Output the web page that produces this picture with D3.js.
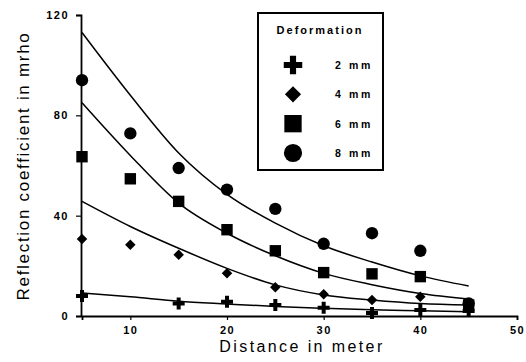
<!DOCTYPE html>
<html>
<head>
<meta charset="utf-8">
<script src="https://cdn.jsdelivr.net/npm/d3@7"></script>
<style>
  body { margin: 0; background: #fff; }
  text { font-family: "Liberation Sans", Arial, sans-serif; fill: #000; }
</style>
</head>
<body>
<script>
// Data
const distances = [5, 10, 15, 20, 25, 30, 35, 40, 45];
const deformations = ["2 mm", "4 mm", "6 mm", "8 mm"];

// measured points (null = no marker)
const points2mm = [8, null, 5, 5.7, 4.4, 3.3, 1.2, 2.4, 2];
const points4mm = [30.7, 28.4, 24.4, 17, 11.5, 8.7, 6.4, 7.7, 4.4];
const points6mm = [63.5, 54.7, 45.7, 34.4, 26, 17.3, 16.8, 15.7, 4.4];
const points8mm = [94, 72.8, 59, 50.4, 42.7, 28.8, 33, 26, 5];

// fitted curves, read at each distance
const fit2mm = [9.2, 7.7, 5.9, 4.8, 3.8, 3.1, 2.5, 2.1, 1.7];
const fit4mm = [45.7, 35.7, 27, 19, 12.4, 8.4, 6.4, 5, 4.4];
const fit6mm = [85, 64, 45, 33, 24, 17, 12.5, 9, 6.8];
const fit8mm = [113, 88, 65, 48.5, 37, 28, 21.5, 16, 12];

const xTicks = [10, 20, 30, 40, 50];
const yTicks = [0, 40, 80, 120];

const w = 526, h = 362;

const x = d3.scaleLinear().domain([5, 50]).range([82, 517]);
const y = d3.scaleLinear().domain([0, 120]).range([316, 15]);

const svg = d3.select("body").append("svg")
  .attr("width", w)
  .attr("height", h);

// symbols
const shapes = [d3.symbolCross, d3.symbolSquare, d3.symbolSquare, d3.symbolCircle];
const rotations = [0, 45, 0, 0];
const plotSizes = [80, 55, 130, 120];
const legendSizes = [190, 130, 300, 260];

const series = [
  { points: points2mm, fit: fit2mm },
  { points: points4mm, fit: fit4mm },
  { points: points6mm, fit: fit6mm },
  { points: points8mm, fit: fit8mm }
];

// Axes
const xAxis = svg.append("g")
  .attr("transform", `translate(0,${y(0)})`)
  .call(d3.axisBottom(x).tickValues(xTicks).tickSize(4).tickFormat(d3.format("d")));
const yAxis = svg.append("g")
  .attr("transform", `translate(${x(5) - 1},0)`)
  .call(d3.axisLeft(y).tickValues(yTicks).tickSize(5).tickFormat(d3.format("d")));

[xAxis, yAxis].forEach(a => {
  a.select(".domain").attr("stroke", "#000").attr("stroke-width", 1.8);
  a.selectAll(".tick line").attr("stroke", "#000").attr("stroke-width", 1.2);
  a.selectAll(".tick text")
    .style("font-family", "'Liberation Sans', Arial, sans-serif")
    .style("font-size", "11px")
    .style("font-weight", "bold")
    .style("letter-spacing", "1.5px")
    .attr("fill", "#000");
});
xAxis.selectAll(".tick text").attr("dy", "1em");
yAxis.selectAll(".tick text").attr("x", -12);

// Curves
const line = d3.line()
  .defined(d => d[1] != null)
  .x(d => x(d[0]))
  .y(d => y(d[1]))
  .curve(d3.curveMonotoneX);

series.forEach(s => {
  svg.append("path")
    .datum(distances.map((d, i) => [d, s.fit[i]]))
    .attr("d", line)
    .attr("fill", "none")
    .attr("stroke", "#000")
    .attr("stroke-width", 1.5);
});

// Markers
series.forEach((s, k) => {
  svg.append("g").selectAll("path")
    .data(distances.map((d, i) => [d, s.points[i]]).filter(d => d[1] != null))
    .enter()
    .append("path")
    .attr("d", d3.symbol().type(shapes[k]).size(plotSizes[k]))
    .attr("transform", d => `translate(${x(d[0])},${y(d[1])}) rotate(${rotations[k]})`)
    .attr("fill", "#000");
});

// Axis titles
svg.append("text")
  .attr("x", 302)
  .attr("y", 352)
  .attr("text-anchor", "middle")
  .style("font-size", "16px")
  .style("letter-spacing", "2.4px")
  .text("Distance in meter");

svg.append("text")
  .attr("transform", `translate(29,166) rotate(-90)`)
  .attr("text-anchor", "middle")
  .style("font-size", "17px")
  .style("letter-spacing", "1.7px")
  .text("Reflection coefficient in mrho");

// Legend
const legend = svg.append("g");
legend.append("rect")
  .attr("x", 258)
  .attr("y", 13)
  .attr("width", 125)
  .attr("height", 157)
  .attr("fill", "#fff")
  .attr("stroke", "#000")
  .attr("stroke-width", 2);

legend.append("text")
  .attr("x", 320)
  .attr("y", 34)
  .attr("text-anchor", "middle")
  .style("font-size", "11px")
  .style("font-weight", "bold")
  .style("letter-spacing", "2px")
  .text("Deformation");

const legendY = d3.scalePoint().domain(deformations).range([65, 153]);

deformations.forEach((name, k) => {
  legend.append("path")
    .attr("d", d3.symbol().type(shapes[k]).size(legendSizes[k]))
    .attr("transform", `translate(293,${legendY(name)}) rotate(${rotations[k]})`)
    .attr("fill", "#000");
  legend.append("text")
    .attr("x", 335)
    .attr("y", legendY(name) + 4)
    .style("font-size", "10.5px")
    .style("font-weight", "bold")
    .style("letter-spacing", "2.6px")
    .text(name);
});
</script>
</body>
</html>
